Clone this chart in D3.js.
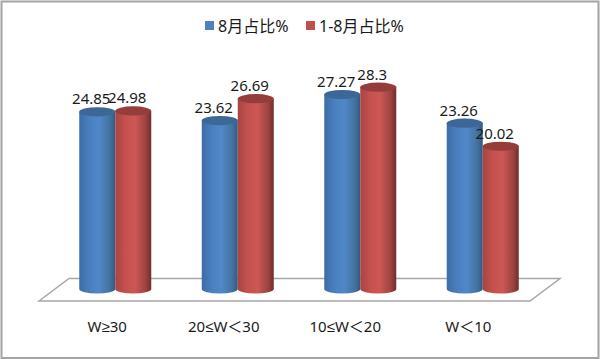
<!DOCTYPE html>
<html><head><meta charset="utf-8">
<script src="https://cdn.jsdelivr.net/npm/d3@7"></script>
<style>html,body{margin:0;padding:0;background:#fff}svg{display:block}text{font-family:"Noto Sans","Liberation Sans","Noto Sans CJK SC",sans-serif;fill:#1a1a1a}</style>
</head><body><script>
const categories = ["W≥30", "20≤W＜30", "10≤W＜20", "W＜10"];
const seriesNames = ["8月占比%", "1-8月占比%"];
const series1 = [24.85, 23.62, 27.27, 23.26];
const series2 = [24.98, 26.69, 28.3, 20.02];
const valueLabels1 = ["24.85", "23.62", "27.27", "23.26"];
const valueLabels2 = ["24.98", "26.69", "28.3", "20.02"];

const W = 600, H = 359;
const svg = d3.select("body").append("svg").attr("width", W).attr("height", H);
const defs = svg.append("defs");
function grad(id, stops) {
  const g = defs.append("linearGradient").attr("id", id).attr("x1", "0").attr("x2", "1").attr("y1", "0").attr("y2", "0");
  stops.forEach(s => g.append("stop").attr("offset", s[0]).attr("stop-color", s[1]));
}
grad("gb", [[0, "#3d6ca6"], [.3, "#4a80c0"], [.55, "#5088c8"], [.85, "#43729f"], [1, "#34597f"]]);
grad("gr", [[0, "#a84442"], [.3, "#c65250"], [.55, "#cc5755"], [.85, "#9c4341"], [1, "#6e2d2c"]]);

svg.append("rect").attr("x", 1.5).attr("y", 1.5).attr("width", 597).attr("height", 356.5)
  .attr("fill", "#fff").attr("stroke", "#a3a3a3").attr("stroke-width", 2);

// floor
svg.append("path").attr("d", "M39,301L69,278.5L560,278.5L530,301Z").attr("fill", "#fff")
  .attr("stroke", "#a6a6a6").attr("stroke-width", 1.5);

const x = d3.scaleBand().domain(categories).range([54, 544]).padding(0);
const y = d3.scaleLinear().domain([0, 30]).range([289, 289 - 7.13 * 30]);
const barW = 36, ry = 4.6, labelDx = -6;

const rows = [
  {vals: series1, labels: valueLabels1, fill: "url(#gb)", top: "#3c6796", off: -barW},
  {vals: series2, labels: valueLabels2, fill: "url(#gr)", top: "#953d3b", off: 0}
];
rows.forEach(r => {
  categories.forEach((c, i) => {
    const x0 = x(c) + x.bandwidth() / 2 + r.off, x1 = x0 + barW, yT = y(r.vals[i]), yB = y(0);
    const rx = barW / 2;
    svg.append("path").attr("fill", r.fill)
      .attr("d", `M${x0},${yT}L${x0},${yB}A${rx},${ry} 0 0 0 ${x1},${yB}L${x1},${yT}Z`);
    svg.append("ellipse").attr("cx", x0 + rx).attr("cy", yT).attr("rx", rx).attr("ry", ry).attr("fill", r.top);
    svg.append("text").attr("x", x0 + rx + labelDx).attr("y", yT - 7.5).attr("text-anchor", "middle")
      .attr("font-size", 15).text(r.labels[i]);
  });
});

// category labels
const labelShift = [-8, -14, -15, -14.5];
categories.forEach((c, i) => {
  svg.append("text").attr("x", x(c) + x.bandwidth() / 2 + labelShift[i]).attr("y", 331.5)
    .attr("text-anchor", "middle").attr("font-size", 15).text(c);
});

// legend
const legX = [205, 306], legC = ["#4f81bd", "#c0504d"];
seriesNames.forEach((n, i) => {
  svg.append("rect").attr("x", legX[i]).attr("y", 21).attr("width", 9).attr("height", 9).attr("fill", legC[i]);
  svg.append("text").attr("x", legX[i] + 13).attr("y", 31.5).attr("font-size", 16).text(n);
});
</script></body></html>
